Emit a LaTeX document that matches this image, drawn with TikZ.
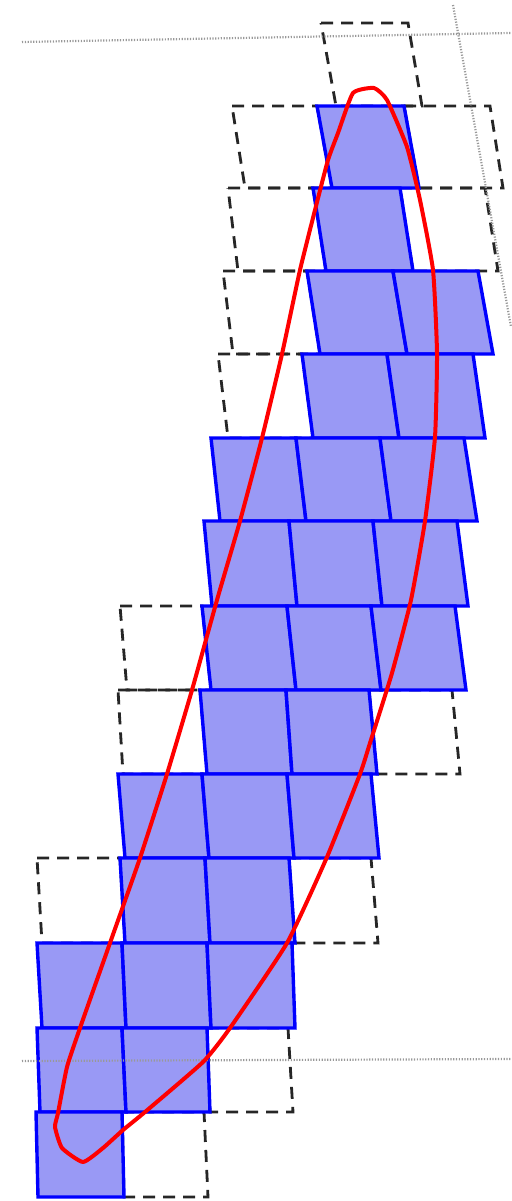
\documentclass[tikz,border=0pt]{standalone}
\begin{document}
\begin{tikzpicture}[x=0.5pt,y=-0.5pt,
  emptycell/.style={draw=black!85,line width=1.4pt,dash pattern=on 6pt off 4pt},
  fullcell/.style={draw=blue,line width=1.7pt,fill={rgb,255:red,153;green,153;blue,245}},
  guide/.style={draw=black!40,line width=1.1pt,dash pattern=on 0.6pt off 0.8pt},
  curve/.style={draw=red,line width=2pt,line join=round}]
\useasboundingbox (0,0) rectangle (511,1201);
% #1 style, #2 y top, #3 y bottom, #4 x top-left, #5 x bottom-left, #6 x top-right, #7 x bottom-right
\newcommand\gcell[7]{\path[#1] (#4,#2) -- (#6,#2) -- (#7,#3) -- (#5,#3) -- cycle;}
% empty (dashed) cells
\gcell{emptycell}{23}{106}{321}{336}{408}{422}
\gcell{emptycell}{106}{188}{232}{245}{317}{332}
\gcell{emptycell}{106}{188}{404}{419}{490}{503}
\gcell{emptycell}{188}{271}{228}{238}{313}{326}
\gcell{emptycell}{188}{271}{400}{413}{485}{498}
\gcell{emptycell}{271}{354}{223}{233}{307}{320}
\gcell{emptycell}{354}{438}{218}{228}{302}{313}
\gcell{emptycell}{606}{690}{120}{127}{202}{211}
\gcell{emptycell}{690}{774}{118}{123}{200}{207}
\gcell{emptycell}{690}{774}{369}{377}{452}{460}
\gcell{emptycell}{858}{943}{37}{42}{120}{125}
\gcell{emptycell}{858}{943}{289}{295}{371}{378}
\gcell{emptycell}{1028}{1112}{207}{210}{288}{293}
\gcell{emptycell}{1112}{1197}{122}{124}{204}{208}
% filled cells
\gcell{fullcell}{106}{188}{317}{332}{404}{419}
\gcell{fullcell}{188}{271}{313}{326}{400}{413}
\gcell{fullcell}{271}{354}{307}{320}{393}{407}
\gcell{fullcell}{271}{354}{393}{407}{478}{493}
\gcell{fullcell}{354}{438}{302}{313}{387}{399}
\gcell{fullcell}{354}{438}{387}{399}{473}{485}
\gcell{fullcell}{438}{521}{211}{220}{296}{306}
\gcell{fullcell}{438}{521}{296}{306}{380}{391}
\gcell{fullcell}{438}{521}{380}{391}{464}{477}
\gcell{fullcell}{521}{606}{204}{212}{289}{297}
\gcell{fullcell}{521}{606}{289}{297}{373}{382}
\gcell{fullcell}{521}{606}{373}{382}{457}{468}
\gcell{fullcell}{606}{690}{202}{211}{287}{296}
\gcell{fullcell}{606}{690}{287}{296}{371}{381}
\gcell{fullcell}{606}{690}{371}{381}{455}{466}
\gcell{fullcell}{690}{774}{200}{207}{286}{292}
\gcell{fullcell}{690}{774}{286}{292}{369}{377}
\gcell{fullcell}{774}{858}{118}{125}{202}{209}
\gcell{fullcell}{774}{858}{202}{209}{287}{294}
\gcell{fullcell}{774}{858}{287}{294}{371}{379}
\gcell{fullcell}{858}{943}{120}{125}{205}{210}
\gcell{fullcell}{858}{943}{205}{210}{289}{295}
\gcell{fullcell}{943}{1028}{37}{42}{122}{126}
\gcell{fullcell}{943}{1028}{122}{126}{207}{211}
\gcell{fullcell}{943}{1028}{207}{211}{292}{295}
\gcell{fullcell}{1028}{1112}{37}{40}{122}{126}
\gcell{fullcell}{1028}{1112}{122}{126}{207}{210}
\gcell{fullcell}{1112}{1197}{36}{38}{122}{124}
% guide lines
\coordinate (g1a) at (22,42); \coordinate (g1b) at (511,33);
\coordinate (g2a) at (453,5); \coordinate (g2b) at (511,327);
\coordinate (g3a) at (22,1061); \coordinate (g3b) at (511,1059);
\path[guide] (g1a) -- (g1b);
\path[guide] (g2a) -- (g2b);
\path[guide] (g3a) -- (g3b);
% curve
\path[curve] plot[smooth cycle,tension=0.3] coordinates {
(353,93) (374,88) (387,100) (407,147) (420,200) (433,270) (437,353) (435,437)
(425,521) (411,600) (392,673) (370,743) (360,774) (327,857) (287,943) (230,1028)
(203,1062) (145,1112) (123,1130) (103,1148) (83,1162) (62,1148) (55,1127) (58,1113)
(67,1067) (80,1028) (110,943) (140,858) (167,774) (192,690) (217,600) (240,521)
(262,438) (282,354) (300,270) (315,210) (328,160) (338,133)};
\end{tikzpicture}
\end{document}
